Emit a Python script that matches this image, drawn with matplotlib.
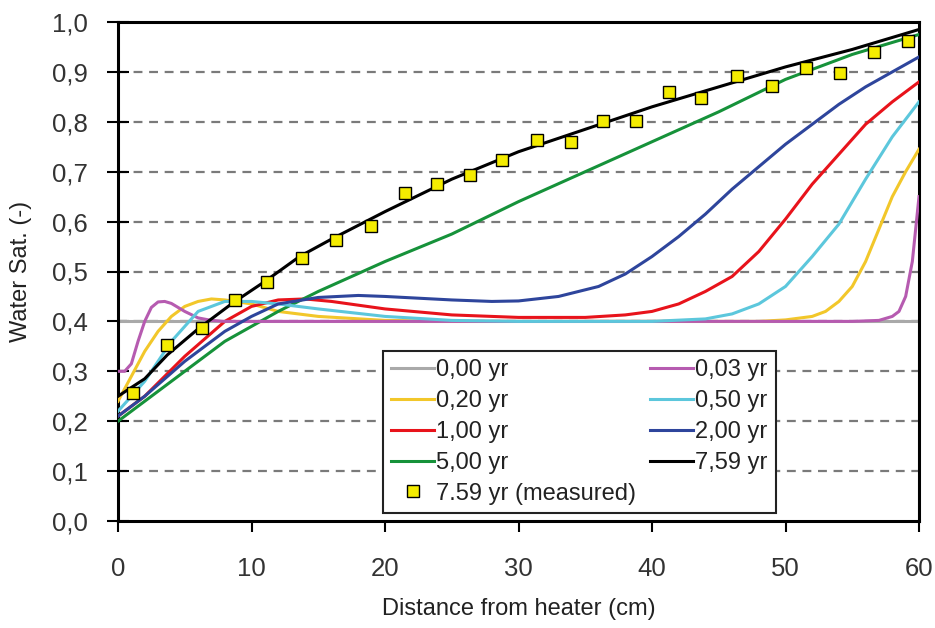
import matplotlib
matplotlib.use("Agg")
import matplotlib.pyplot as plt

# ---- data ----
x_gray = [0, 60]
y_gray = [0.40, 0.40]

x_mag = [0, 0.5, 1, 1.5, 2, 2.5, 3, 3.5, 4, 5, 6, 7, 8, 10, 55, 57, 58, 58.5, 59, 59.5, 60]
y_mag = [0.30, 0.30, 0.315, 0.36, 0.40, 0.428, 0.439, 0.44, 0.436, 0.42, 0.407, 0.402, 0.40, 0.40, 0.40, 0.402, 0.41, 0.42, 0.45, 0.52, 0.65]

x_yel = [0, 1, 2, 3, 4, 5, 6, 7, 8, 10, 12, 15, 20, 25, 48, 50, 52, 53, 54, 55, 56, 57, 58, 59, 60]
y_yel = [0.24, 0.29, 0.34, 0.38, 0.41, 0.43, 0.44, 0.445, 0.443, 0.435, 0.42, 0.41, 0.402, 0.40, 0.40, 0.403, 0.41, 0.42, 0.44, 0.47, 0.52, 0.585, 0.65, 0.70, 0.745]

x_cyan = [0, 2, 4, 6, 8, 10, 12, 15, 20, 25, 30, 40, 44, 46, 48, 50, 52, 54, 56, 58, 60]
y_cyan = [0.22, 0.28, 0.36, 0.42, 0.44, 0.44, 0.435, 0.425, 0.41, 0.402, 0.40, 0.40, 0.405, 0.415, 0.435, 0.47, 0.53, 0.595, 0.685, 0.77, 0.84]

x_red = [0, 2, 5, 8, 10, 12, 14, 16, 20, 25, 30, 35, 38, 40, 42, 44, 46, 48, 50, 52, 54, 56, 58, 60]
y_red = [0.21, 0.25, 0.33, 0.40, 0.43, 0.443, 0.445, 0.44, 0.425, 0.413, 0.408, 0.408, 0.413, 0.42, 0.435, 0.46, 0.49, 0.54, 0.605, 0.675, 0.735, 0.795, 0.84, 0.88]

x_blue = [0, 2, 5, 8, 10, 12, 15, 18, 20, 25, 28, 30, 33, 36, 38, 40, 42, 44, 46, 48, 50, 52, 54, 56, 58, 60]
y_blue = [0.21, 0.25, 0.32, 0.38, 0.41, 0.435, 0.448, 0.452, 0.45, 0.443, 0.44, 0.441, 0.45, 0.47, 0.495, 0.53, 0.57, 0.615, 0.665, 0.71, 0.755, 0.795, 0.835, 0.87, 0.90, 0.93]

x_green = [0, 2, 5, 8, 10, 12, 15, 20, 25, 30, 35, 40, 45, 50, 55, 60]
y_green = [0.20, 0.24, 0.30, 0.36, 0.39, 0.42, 0.46, 0.52, 0.575, 0.64, 0.70, 0.76, 0.82, 0.885, 0.935, 0.975]

x_black = [0, 2, 3.7, 6, 8.6, 11, 13.6, 16, 20, 25, 30, 35, 40, 45, 50, 55, 60]
y_black = [0.25, 0.285, 0.333, 0.385, 0.437, 0.48, 0.53, 0.565, 0.62, 0.685, 0.74, 0.785, 0.83, 0.87, 0.91, 0.945, 0.985]

x_meas = [1.12, 3.67, 6.29, 8.76, 11.16, 13.78, 16.33, 18.95, 21.5, 23.9, 26.4, 28.8,
          31.4, 33.9, 36.3, 38.8, 41.3, 43.7, 46.4, 49.0, 51.5, 54.1, 56.6, 59.2]
y_meas = [0.257, 0.353, 0.387, 0.443, 0.479, 0.527, 0.563, 0.591, 0.657, 0.675, 0.693, 0.723,
          0.764, 0.760, 0.802, 0.802, 0.860, 0.848, 0.892, 0.872, 0.908, 0.898, 0.940, 0.962]

x_ticks = [0, 10, 20, 30, 40, 50, 60]
y_ticks = [0.0, 0.1, 0.2, 0.3, 0.4, 0.5, 0.6, 0.7, 0.8, 0.9, 1.0]
y_ticklabels = ["0,0", "0,1", "0,2", "0,3", "0,4", "0,5", "0,6", "0,7", "0,8", "0,9", "1,0"]

# ---- plot ----
plt.rcParams['font.family'] = ['Liberation Sans', 'DejaVu Sans']
fig = plt.figure(figsize=(9.35, 6.28), dpi=100)
ax = fig.add_axes([118/935, 1 - 521/628, (919-118)/935, (521-22)/628])

for yv in y_ticks[1:-1]:
    ax.axhline(yv, color='#7a7a7a', lw=1.6, ls=(0, (4, 3)), zorder=1)

lw = 2.2
ax.plot(x_gray, y_gray, color='#a9a9a9', lw=lw, label='0,00 yr', zorder=2)
ax.plot(x_yel, y_yel, color='#f2c72a', lw=lw, label='0,20 yr', zorder=3)
ax.plot(x_red, y_red, color='#e8131b', lw=lw, label='1,00 yr', zorder=3)
ax.plot(x_green, y_green, color='#16923a', lw=lw, label='5,00 yr', zorder=3)
ax.plot(x_meas, y_meas, ls='none', marker='s', ms=9, mfc='#f4ec00', mec='black', mew=1.0,
        label='7.59 yr (measured)', zorder=6)
ax.plot(x_mag, y_mag, color='#b65bb0', lw=lw, label='0,03 yr', zorder=3)
ax.plot(x_cyan, y_cyan, color='#5cc7dc', lw=lw, label='0,50 yr', zorder=3)
ax.plot(x_blue, y_blue, color='#2e459c', lw=lw, label='2,00 yr', zorder=3)
ax.plot(x_black, y_black, color='black', lw=lw, label='7,59 yr', zorder=4)

# gray vertical at right edge for 0.00 yr
ax.plot([60, 60], [0.0, 0.40], color='#a9a9a9', lw=lw, zorder=2)

ax.set_xlim(0, 60)
ax.set_ylim(0, 1.0)
ax.set_xticks(x_ticks)
ax.set_yticks(y_ticks)
ax.set_yticklabels(y_ticklabels)
ax.tick_params(axis='y', labelsize=18.5, direction='inout', length=16, width=1.5, pad=14,
               labelcolor='#333333')
ax.tick_params(axis='x', labelsize=18.5, direction='out', length=8, width=1.5, pad=18,
               labelcolor='#333333')
for s in ax.spines.values():
    s.set_linewidth(2.2)
    s.set_color('black')

ax.set_xlabel('Distance from heater (cm)', fontsize=17, labelpad=12, color='#222222')
ax.set_ylabel('Water Sat. (-)', fontsize=17, labelpad=14, color='#222222')

leg = ax.legend(loc='lower left', bbox_to_anchor=(0.331, 0.016), ncol=2, fontsize=17,
                frameon=True, fancybox=False, edgecolor='#222222', framealpha=1,
                handlelength=1.8, handletextpad=0.1, columnspacing=0.6,
                borderpad=0.35, labelspacing=0.38, borderaxespad=0)
leg.get_frame().set_linewidth(1.5)
leg.set_zorder(10)
for t in leg.get_texts():
    t.set_color('#222222')

fig.savefig('out.png', dpi=100)
